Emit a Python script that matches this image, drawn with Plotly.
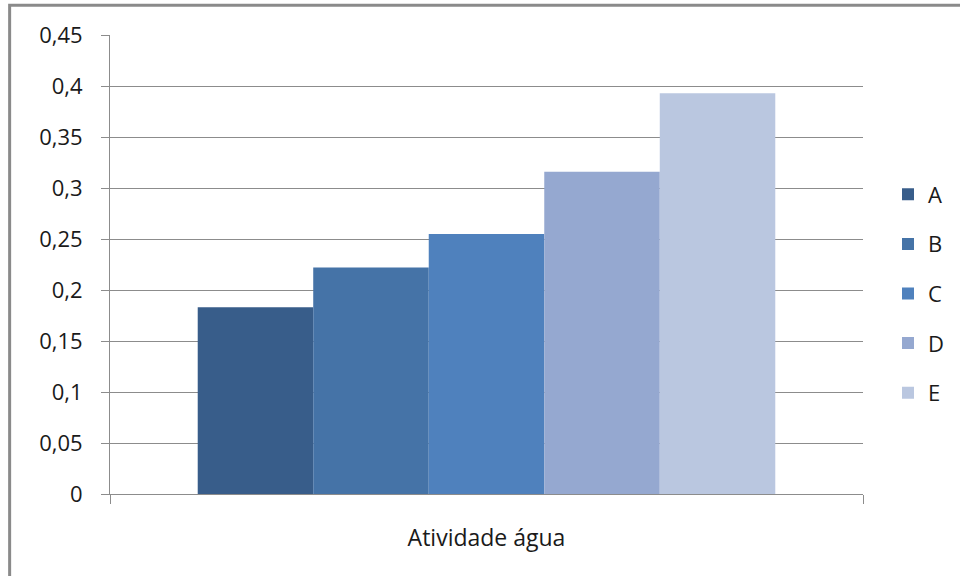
import plotly.graph_objects as go

# Data
category = ["Atividade água"]
series_names = ["A", "B", "C", "D", "E"]
series_values = [0.183, 0.222, 0.255, 0.316, 0.393]
series_colors = ["#385D8A", "#4573A7", "#4F81BD", "#95A8D0", "#BAC7E0"]

y_tickvals = [0, 0.05, 0.1, 0.15, 0.2, 0.25, 0.3, 0.35, 0.4, 0.45]
y_ticktext = ["0", "0,05", "0,1", "0,15", "0,2", "0,25", "0,3", "0,35", "0,4", "0,45"]

W, H = 960, 576
L, R, T, B = 110, 96, 35, 82
plot_w = W - L - R
plot_h = H - T - B

def px_to_paper_x(px):
    return (px - L) / plot_w

def px_to_paper_y(py):
    return (H - B - py) / plot_h

fig = go.Figure()
for name, val, col in zip(series_names, series_values, series_colors):
    fig.add_trace(go.Bar(
        x=category, y=[val], name=name,
        marker=dict(color=col, line=dict(width=0)),
        legendgroup=name,
    ))

grid_col = "#8c8c8c"
font_family = "Open Sans, Noto Sans, sans-serif"

fig.update_layout(
    width=W, height=H,
    margin=dict(l=L, r=R, t=T, b=B),
    paper_bgcolor="white", plot_bgcolor="white",
    barmode="group", bargap=0.233, bargroupgap=0,
    font=dict(family=font_family, size=22, color="#1a1a1a"),
    showlegend=True,
    legend=dict(
        x=px_to_paper_x(888), xanchor="left",
        y=px_to_paper_y(293.5), yanchor="middle",
        tracegroupgap=18,
        font=dict(size=22),
        bgcolor="rgba(0,0,0,0)",
    ),
    xaxis=dict(
        showgrid=False, zeroline=False,
        showline=True, linecolor=grid_col, linewidth=1,
        ticks="outside", tickson="boundaries", ticklen=9, tickcolor=grid_col,
        ticklabelstandoff=23,
        tickfont=dict(size=23),
    ),
    yaxis=dict(
        range=[0, 0.45],
        tickvals=y_tickvals, ticktext=y_ticktext,
        showgrid=True, gridcolor=grid_col, gridwidth=1,
        zeroline=False,
        showline=True, linecolor=grid_col, linewidth=1,
        ticks="outside", ticklen=8, tickcolor=grid_col,
        ticklabelstandoff=14,
        tickfont=dict(size=22),
    ),
    shapes=[dict(
        type="rect", xref="paper", yref="paper",
        x0=px_to_paper_x(9.5), x1=px_to_paper_x(1100),
        y0=px_to_paper_y(700), y1=px_to_paper_y(5.2),
        line=dict(color="#8a8a8a", width=3),
        fillcolor="rgba(0,0,0,0)", layer="above",
    )],
)

fig.write_html("out.html")
